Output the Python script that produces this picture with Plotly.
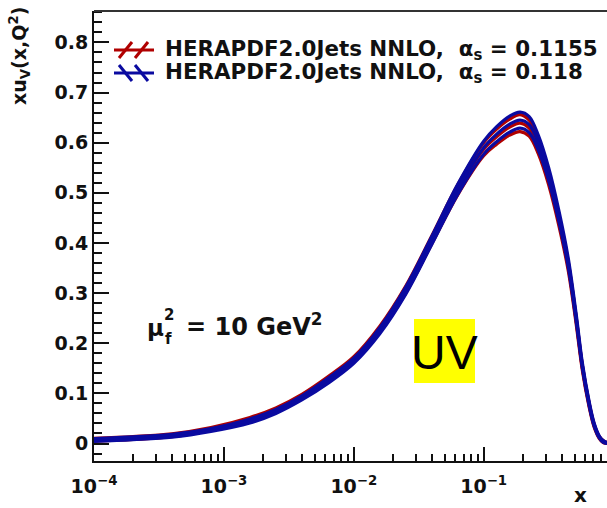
import plotly.graph_objects as go

# ---- data: xu_v(x, Q^2) at mu_f^2 = 10 GeV^2 ----
LOG10_X = [-4.0, -3.7, -3.4, -3.1, -2.8, -2.6, -2.4, -2.2, -2.0, -1.8, -1.6, -1.4,
           -1.2, -1.0, -0.9, -0.8, -0.72, -0.65, -0.58, -0.5, -0.42, -0.35, -0.29,
           -0.24, -0.19, -0.15, -0.11, -0.08, -0.05]

# alpha_s = 0.118 (blue)
BLUE_CENTRAL = [0.007, 0.0105, 0.0155, 0.027, 0.045, 0.064, 0.091, 0.125, 0.165, 0.225,
                0.305, 0.405, 0.507, 0.590, 0.617, 0.637, 0.645, 0.636, 0.600, 0.537,
                0.452, 0.362, 0.255, 0.155, 0.082, 0.038, 0.013, 0.004, 0.000]
BLUE_ERR = [0.003, 0.003, 0.003, 0.003, 0.004, 0.004, 0.004, 0.005, 0.005, 0.006,
            0.007, 0.008, 0.010, 0.013, 0.015, 0.016, 0.016, 0.016, 0.015, 0.013,
            0.011, 0.009, 0.007, 0.005, 0.004, 0.003, 0.002, 0.002, 0.002]

# alpha_s = 0.1155 (red)
RED_CENTRAL = [0.0075, 0.011, 0.0165, 0.029, 0.048, 0.067, 0.094, 0.128, 0.168, 0.228,
               0.307, 0.406, 0.506, 0.587, 0.612, 0.631, 0.639, 0.629, 0.593, 0.529,
               0.444, 0.355, 0.249, 0.150, 0.079, 0.036, 0.012, 0.004, 0.000]
RED_ERR = [0.003, 0.003, 0.003, 0.003, 0.004, 0.004, 0.004, 0.005, 0.005, 0.006,
           0.007, 0.008, 0.010, 0.013, 0.015, 0.016, 0.017, 0.016, 0.015, 0.013,
           0.011, 0.009, 0.007, 0.005, 0.004, 0.003, 0.002, 0.002, 0.002]

X_TICK_EXP = [-4, -3, -2, -1]
Y_TICKS = [0, 0.1, 0.2, 0.3, 0.4, 0.5, 0.6, 0.7, 0.8]

LEGEND_LABELS = ["HERAPDF2.0Jets NNLO,  α<sub>s</sub> = 0.1155",
                 "HERAPDF2.0Jets NNLO,  α<sub>s</sub> = 0.118"]
RED = "#b00000"
BLUE = "#0a0aa0"

W, H = 607, 508
ML, MR, MT, MB = 94, 0, 11, 47
X_RANGE = [-4.0, -0.0508]
Y_RANGE = [-0.0349, 0.8627]

FONT = "DejaVu Sans"


def px(xp, yp):
    """pixel position -> paper coordinates"""
    return ((xp - ML) / (W - ML - MR), (H - MB - yp) / (H - MT - MB))


x_vals = [10 ** e for e in LOG10_X]

fig = go.Figure()


def add_band(central, err, color):
    upper = [c + e for c, e in zip(central, err)]
    lower = [max(c - e, 0.0) for c, e in zip(central, err)]
    for ys in (upper, central, lower):
        fig.add_trace(go.Scatter(
            x=x_vals, y=ys, mode="lines",
            line=dict(color=color, width=3.2, shape="spline", smoothing=1.0),
            showlegend=False, hoverinfo="skip"))


add_band(RED_CENTRAL, RED_ERR, RED)
add_band(BLUE_CENTRAL, BLUE_ERR, BLUE)

minor_x = [m * 10 ** e for e in range(-4, 0) for m in range(2, 10)]

fig.update_xaxes(
    type="log", range=X_RANGE,
    tickmode="array", tickvals=[10 ** e for e in X_TICK_EXP],
    ticktext=[f"10<sup>−{-e}</sup>" for e in X_TICK_EXP],
    ticks="inside", ticklen=14, tickwidth=1.5, tickcolor="#111",
    minor=dict(tickmode="array", tickvals=minor_x, ticks="inside",
               ticklen=7, tickwidth=1.5, tickcolor="#111", showgrid=False),
    showline=True, linecolor="#111", linewidth=2,
    showgrid=False, zeroline=False, ticklabelstandoff=7,
    tickfont=dict(family=FONT, size=19, color="#111", weight="bold"),
)
fig.update_yaxes(
    range=Y_RANGE, tickmode="array", tickvals=Y_TICKS,
    ticktext=[("0" if v == 0 else f"{v:.1f}") for v in Y_TICKS],
    ticks="inside", ticklen=15, tickwidth=1.5, tickcolor="#111",
    minor=dict(dtick=0.02, tick0=0, ticks="inside", ticklen=8,
               tickwidth=1.5, tickcolor="#111", showgrid=False),
    showline=True, linecolor="#111", linewidth=2,
    showgrid=False, zeroline=False,
    tickfont=dict(family=FONT, size=19, color="#111", weight="bold"),
)

shapes = []
# top frame line
shapes.append(dict(type="line", xref="paper", yref="paper", x0=0, x1=1, y0=1, y1=1,
                   line=dict(color="#333", width=2)))
# legend hatch icons
for i, col in enumerate([RED, BLUE]):
    yc = 50 + 23 * i
    a0 = px(114, yc)
    a1 = px(154, yc)
    shapes.append(dict(type="line", xref="paper", yref="paper",
                       x0=a0[0], y0=a0[1], x1=a1[0], y1=a1[1],
                       line=dict(color=col, width=3)))
    for k in range(2):
        xs = 119 + 16 * k
        if i == 0:
            p0, p1 = px(xs, yc + 8), px(xs + 13, yc - 8)
        else:
            p0, p1 = px(xs, yc - 8), px(xs + 13, yc + 8)
        shapes.append(dict(type="line", xref="paper", yref="paper",
                           x0=p0[0], y0=p0[1], x1=p1[0], y1=p1[1],
                           line=dict(color=col, width=3)))
# yellow label box
b0, b1 = px(414, 319), px(475, 383)
shapes.append(dict(type="rect", xref="paper", yref="paper", x0=b0[0], y0=b1[1],
                   x1=b1[0], y1=b0[1], fillcolor="#ffff00", line=dict(width=0),
                   layer="above"))

annotations = []
for i, lab in enumerate(LEGEND_LABELS):
    p = px(163, 50 + 23 * i)
    annotations.append(dict(xref="paper", yref="paper", x=p[0], y=p[1],
                            xanchor="left", yanchor="middle", showarrow=False,
                            text=lab,
                            font=dict(family=FONT, size=21.4, color="#111", weight="bold")))
# axis titles
p = px(589, 495)
annotations.append(dict(xref="paper", yref="paper", x=p[0], y=p[1], xanchor="right",
                        yanchor="middle", showarrow=False, text="x",
                        font=dict(family=FONT, size=20, color="#111", weight="bold")))
p = px(20, 5)
annotations.append(dict(xref="paper", yref="paper", x=p[0], y=p[1], xanchor="center",
                        yanchor="top", showarrow=False, textangle=-90,
                        text="xu<sub>V</sub>(x,Q<sup>2</sup>)",
                        font=dict(family=FONT, size=19, color="#111", weight="bold")))
# scale label
p = px(145, 328)
annotations.append(dict(xref="paper", yref="paper", x=p[0], y=p[1], xanchor="left",
                        yanchor="middle", showarrow=False, text="μ",
                        font=dict(family=FONT, size=23, color="#111", weight="bold")))
p = px(162, 315)
annotations.append(dict(xref="paper", yref="paper", x=p[0], y=p[1], xanchor="left",
                        yanchor="middle", showarrow=False, text="2",
                        font=dict(family=FONT, size=15, color="#111", weight="bold")))
p = px(163, 339)
annotations.append(dict(xref="paper", yref="paper", x=p[0], y=p[1], xanchor="left",
                        yanchor="middle", showarrow=False, text="f",
                        font=dict(family=FONT, size=15, color="#111", weight="bold")))
p = px(184, 325)
annotations.append(dict(xref="paper", yref="paper", x=p[0], y=p[1], xanchor="left",
                        yanchor="middle", showarrow=False,
                        text="= 10 GeV<sup>2</sup>",
                        font=dict(family=FONT, size=24, color="#111", weight="bold")))
p = px(444.5, 352)
annotations.append(dict(xref="paper", yref="paper", x=p[0], y=p[1], xanchor="center",
                        yanchor="middle", showarrow=False, text="UV",
                        font=dict(family="Liberation Sans", size=48, color="#000")))

fig.update_layout(
    width=W, height=H, margin=dict(l=ML, r=MR, t=MT, b=MB, pad=0),
    paper_bgcolor="white", plot_bgcolor="white",
    shapes=shapes, annotations=annotations, showlegend=False,
)

fig.write_html("out.html")
